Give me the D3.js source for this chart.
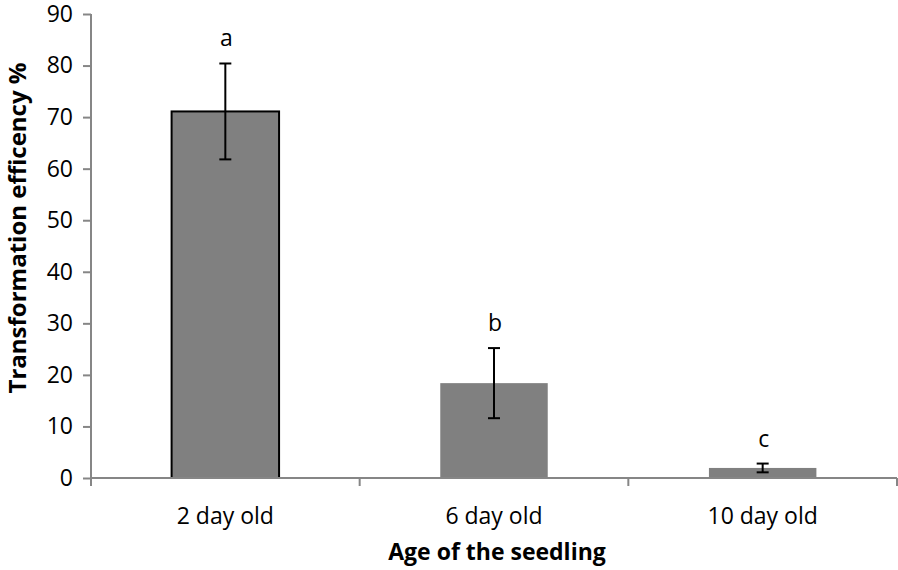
<!DOCTYPE html>
<html><head><meta charset="utf-8">
<script src="https://cdn.jsdelivr.net/npm/d3@7"></script>
<style>body{margin:0;background:#fff}svg{display:block;font-family:"Open Sans",sans-serif}</style>
</head><body>
<svg id="c" width="898" height="570"></svg>
<script>
const categories = ["2 day old", "6 day old", "10 day old"];
const values = [71.1, 18.4, 1.95];
const errors = [9.3, 6.8, 0.85];
const letters = ["a", "b", "c"];
const yTicks = [0, 10, 20, 30, 40, 50, 60, 70, 80, 90];

(function () {
const svg = d3.select("#c");
const mL = 91, mR = 897, mT = 14, mB = 478;
const x = d3.scaleBand().domain(categories).range([mL, mR]).paddingInner(0.6).paddingOuter(0.3);
const y = d3.scaleLinear().domain([0, 90]).range([mB, mT]);
const axisColor = "#868686";
const fs = 23;

// bars
svg.selectAll("rect.bar").data(categories).enter().append("rect")
  .attr("x", d => x(d)).attr("width", x.bandwidth())
  .attr("y", (d, i) => y(values[i])).attr("height", (d, i) => y(0) - y(values[i]))
  .attr("fill", "#808080")
  .attr("stroke", (d, i) => i === 0 ? "#000" : "none").attr("stroke-width", 2);

// y axis
const ya = svg.append("g").attr("transform", `translate(${mL},0)`)
  .call(d3.axisLeft(y).tickValues(yTicks).tickSize(8).tickPadding(10));
ya.select(".domain").attr("stroke", axisColor).attr("stroke-width", 2).attr("d", `M0,${mT}V${mB}`);
ya.selectAll(".tick line").attr("stroke", axisColor).attr("stroke-width", 2);
ya.selectAll(".tick text").attr("fill", "#000").attr("font-size", fs).attr("font-family", "'Open Sans', sans-serif");

// x axis
const xa = svg.append("g").attr("transform", `translate(0,${mB})`);
xa.append("line").attr("x1", mL).attr("x2", mR).attr("stroke", axisColor).attr("stroke-width", 2);
const bounds = [mL, ...categories.map(c => x(c) + x.bandwidth() / 2 + x.step() / 2)];
xa.selectAll("line.tk").data(bounds).enter().append("line")
  .attr("x1", d => d).attr("x2", d => d).attr("y1", 0).attr("y2", 8)
  .attr("stroke", axisColor).attr("stroke-width", 2);
xa.selectAll("text.cat").data(categories).enter().append("text")
  .attr("x", d => x(d) + x.bandwidth() / 2).attr("y", 46)
  .attr("text-anchor", "middle").attr("font-size", fs).text(d => d);

// error bars
const eb = svg.selectAll("g.err").data(categories).enter().append("g")
  .attr("stroke", "#000").attr("stroke-width", 2);
eb.append("line").attr("x1", d => x(d) + x.bandwidth() / 2).attr("x2", d => x(d) + x.bandwidth() / 2)
  .attr("y1", (d, i) => y(values[i] + errors[i])).attr("y2", (d, i) => y(values[i] - errors[i]));
[1, -1].forEach(s => {
  eb.append("line").attr("x1", d => x(d) + x.bandwidth() / 2 - 6).attr("x2", d => x(d) + x.bandwidth() / 2 + 6)
    .attr("y1", (d, i) => y(values[i] + s * errors[i])).attr("y2", (d, i) => y(values[i] + s * errors[i]));
});

// letters
svg.selectAll("text.let").data(categories).enter().append("text")
  .attr("x", d => x(d) + x.bandwidth() / 2 + 1)
  .attr("y", (d, i) => y(values[i] + errors[i]) - 17)
  .attr("text-anchor", "middle").attr("font-size", fs).text((d, i) => letters[i]);

// titles
svg.append("text").attr("x", 497).attr("y", 560).attr("text-anchor", "middle")
  .attr("font-size", 23).attr("font-weight", "bold").text("Age of the seedling");
svg.append("text").attr("transform", `translate(26,228) rotate(-90)`)
  .attr("text-anchor", "middle").attr("font-size", 24).attr("font-weight", "bold").text("Transformation efficency %");
})();
</script>
</body></html>
